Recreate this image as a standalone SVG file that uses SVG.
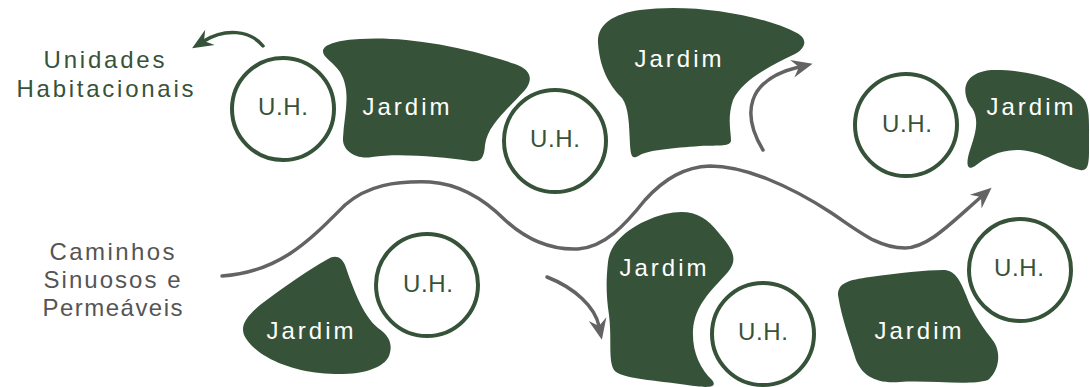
<svg xmlns="http://www.w3.org/2000/svg" width="1090" height="387" viewBox="0 0 1090 387">
<style>
.jar{fill:#36533a}
.uh{fill:#fff;stroke:#36533a;stroke-width:4}
.t{font-family:"Liberation Sans",Arial,sans-serif;font-size:24px;text-anchor:middle}
.tw{fill:#fff}
.tg{fill:#36533a}
.tl{fill:#555}
.path{fill:none;stroke:#636363;stroke-width:3.5;stroke-linecap:round}
.gpath{fill:none;stroke:#36533a;stroke-width:3.5;stroke-linecap:round}
</style>
<defs>
<marker id="ahg" markerUnits="userSpaceOnUse" orient="auto" refX="0" refY="0" markerWidth="40" markerHeight="40" viewBox="-20 -20 40 40" overflow="visible">
<path d="M14,0 L-7,-9 L0,0 L-7,9 Z" fill="#636363"/>
</marker>
<marker id="ahgr" markerUnits="userSpaceOnUse" orient="auto" refX="0" refY="0" markerWidth="40" markerHeight="40" viewBox="-20 -20 40 40" overflow="visible">
<path d="M14,0 L-7,-9 L0,0 L-7,9 Z" fill="#36533a"/>
</marker>
</defs>
<rect width="1090" height="387" fill="#fff"/>

<g id="connectors">
<path class="path" d="M222,276 C 280,272 310,240 345,205 C 368,185 395,181 430,182 C 460,184 485,200 505,220 C 530,243 555,250 578,249 C 605,247 625,225 645,200 C 665,178 685,167 710,166 C 745,166 790,186 830,212 C 860,232 878,248 905,248 C 928,248 952,222 981,197" marker-end="url(#ahg)"/>
<path class="gpath" d="M263,46 C 250,30 225,28 204,41" marker-end="url(#ahgr)"/>
<path class="path" d="M763,150 C 742,115 745,80 799,67" marker-end="url(#ahg)"/>
<path class="path" d="M547,277 C 575,288 595,307 599,326" marker-end="url(#ahg)"/>
</g>

<g id="label-uh">
<text class="t tg" x="104" y="68" textLength="121">Unidades</text>
<text class="t tg" x="105" y="97" textLength="177">Habitacionais</text>
</g>
<g id="label-caminhos">
<text class="t tl" x="112" y="260" textLength="125">Caminhos</text>
<text class="t tl" x="112" y="288" textLength="137">Sinuosos e</text>
<text class="t tl" x="112.5" y="316" textLength="140">Permeáveis</text>
</g>

<g id="uh1"><circle class="uh" cx="283" cy="109" r="51"/><text class="t tg" x="283" y="115" textLength="50">U.H.</text></g>
<g id="jardim1"><path class="jar" d="M323,52 C 322,44 340,40 360,39 C 400,36 460,45 515,64 C 532,70 533,80 525,90 C 505,112 488,125 485,145 C 484,160 480,162 470,161 C 440,157 400,153 372,157 C 355,160 342,150 343,138 C 344,115 352,92 340,72 C 333,62 324,58 323,52 Z"/><text class="t tw" x="406" y="115" textLength="87">Jardim</text></g>
<g id="uh2"><circle class="uh" cx="555" cy="141" r="51"/><text class="t tg" x="555" y="147" textLength="50">U.H.</text></g>
<g id="jardim2"><path class="jar" d="M598,43 C 597,25 612,14 640,10 C 690,3 760,14 797,33 C 808,39 806,48 795,54 C 770,66 742,80 733,100 C 727,118 731,132 731,140 C 731,147 720,145 700,146 C 672,148 650,150 640,155 C 632,160 631,157 630,145 C 629,125 629,108 622,98 C 612,88 600,72 598,43 Z"/><text class="t tw" x="678" y="67" textLength="87">Jardim</text></g>
<g id="uh3"><circle class="uh" cx="906" cy="125" r="51"/><text class="t tg" x="907" y="132" textLength="50">U.H.</text></g>
<g id="jardim3"><path class="jar" d="M966,96 C 962,80 975,70 995,70 C 1030,70 1065,80 1082,97 C 1090,105 1089,120 1089,140 C 1089,160 1090,172 1080,170 C 1060,165 1045,152 1020,150 C 1000,149 985,158 975,166 C 966,172 966,162 970,150 C 975,135 980,120 972,108 C 968,103 967,100 966,96 Z"/><text class="t tw" x="1030" y="115" textLength="87">Jardim</text></g>
<g id="jardim4"><path class="jar" d="M328,259 C 336,254 342,258 345,265 C 352,285 362,315 378,328 C 390,336 393,345 389,356 C 383,370 355,377 320,373 C 290,370 260,358 247,340 C 238,328 245,318 260,305 C 280,290 305,272 328,259 Z"/><text class="t tw" x="310" y="339" textLength="87">Jardim</text></g>
<g id="uh4"><circle class="uh" cx="427" cy="285" r="51"/><text class="t tg" x="428" y="292" textLength="50">U.H.</text></g>
<g id="jardim5"><path class="jar" d="M608,262 C 610,240 635,222 665,214 C 690,208 705,215 718,232 C 730,246 740,258 728,272 C 710,292 695,305 693,330 C 692,352 700,368 712,380 C 720,390 700,387 680,384 C 650,380 620,378 614,370 C 608,360 612,340 609,315 C 606,295 606,280 608,262 Z"/><text class="t tw" x="663" y="276" textLength="87">Jardim</text></g>
<g id="uh5"><circle class="uh" cx="763" cy="334" r="51"/><text class="t tg" x="763" y="340" textLength="50">U.H.</text></g>
<g id="jardim6"><path class="jar" d="M838,295 C 838,283 848,280 870,277 C 900,273 925,270 943,270 C 955,270 960,280 966,295 C 973,315 985,330 994,342 C 1002,355 998,372 988,380 C 970,386 930,380 900,382 C 875,384 862,375 856,360 C 850,340 842,320 838,295 Z"/><text class="t tw" x="918" y="339" textLength="87">Jardim</text></g>
<g id="uh6"><circle class="uh" cx="1020" cy="270" r="51"/><text class="t tg" x="1019" y="276" textLength="50">U.H.</text></g>
</svg>
